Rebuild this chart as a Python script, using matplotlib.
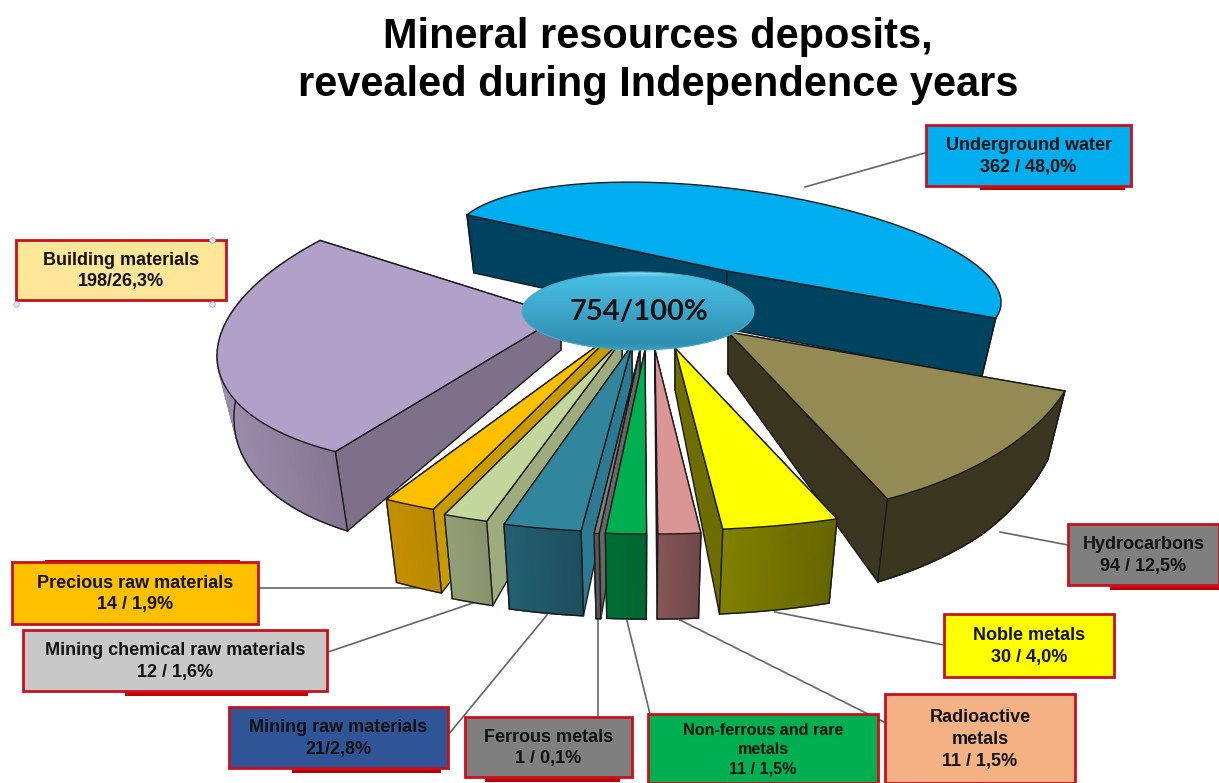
import numpy as np
import matplotlib
matplotlib.use("Agg")
import matplotlib.pyplot as plt
from matplotlib.patches import Polygon, Rectangle, Ellipse

# data
names = ["Underground water", "Hydrocarbons", "Noble metals", "Radioactive metals",
         "Non-ferrous and rare metals", "Ferrous metals", "Mining raw materials",
         "Mining chemical raw materials", "Precious raw materials", "Building materials"]
counts = [362, 94, 30, 11, 11, 1, 21, 12, 14, 198]
title = "Mineral resources deposits,\nrevealed during Independence years"
center_label = "754/100%"
box_labels = ["Underground water\n362 / 48,0%", "Hydrocarbons\n94 / 12,5%", "Noble metals\n30 / 4,0%",
              "Radioactive\nmetals\n11 / 1,5%", "Non-ferrous and rare\nmetals\n11 / 1,5%",
              "Ferrous metals\n1 / 0,1%", "Mining raw materials\n21/2,8%",
              "Mining chemical raw materials\n12 / 1,6%", "Precious raw materials\n14 / 1,9%",
              "Building materials\n198/26,3%"]

# colours: top, radial wall, outer wall (light, dark)
tops = ["#00aeef", "#948a54", "#ffff00", "#d99694", "#00b050", "#808080", "#31859c", "#c3d69b", "#ffc000", "#b1a0c7"]
sides = ["#004360", "#3b3620", "#6e6e00", "#7b5050", "#006a30", "#666666", "#2b7a92", "#9dab7e", "#c89b00", "#7f7089"]
front1 = ["#004360", "#3b3620", "#808000", "#855656", "#006f33", "#5a5a5a", "#235f72", "#939f76", "#c49000", "#9c8dae"]
front2 = ["#004360", "#3b3620", "#666600", "#6e4848", "#006730", "#505050", "#1d4e5e", "#87936c", "#b98900", "#85768f"]

# each wedge gets its own apex, radii, tilt and start angle (exploded look)
apex_x = [727, 728, 675, 655, 645, 640, 632, 622, 612, 561]
apex_y = [271, 332, 348, 350, 350, 350, 345, 340, 335, 316]
rad_x = [265, 355, 470, 470, 450, 600, 450, 450, 450, 344]
rad_y = [86, 187, 182, 184, 184, 184, 187, 190, 190, 145]
tilt = [0.195, 0, 0, 0, 0, 0, 0, 0, 0, -0.116]
skew = [70, 0, 0, 0, 0, 0, 0, 0, 0, 0]
start = [176.4, -18.4, -69.84, -84.4, -89.8, -93.9, -96.5, -107.5, -113.4, 229]
inner_h = [58, 42, 42, 42, 42, 42, 42, 42, 42, 34]
draw_order = [0, 9, 1, 8, 7, 6, 5, 2, 3, 4]

# label boxes x0, y0, x1, y1 and leader lines
boxes = [(926, 125, 1131, 186), (1068, 524, 1219, 585), (944, 614, 1114, 677), (885, 694, 1075, 783),
         (648, 714, 878, 783), (465, 717, 632, 777), (229, 707, 448, 768), (23, 630, 327, 691),
         (12, 562, 258, 624), (16, 240, 226, 300)]
box_cols = ["#00aeef", "#7f7f7f", "#ffff00", "#f4b183", "#00b050", "#7f7f7f", "#2f5597", "#c8c8c8", "#ffc000", "#ffe699"]
leaders = [((925, 153), (805, 187)), ((1068, 545), (1000, 532)), ((944, 645), (775, 612)),
           ((884, 722), (680, 620)), ((650, 714), (627, 621)), ((598, 716), (598, 620)),
           ((448, 735), (547, 615)), ((328, 652), (473, 603)), ((258, 588), (420, 588)), None]
text_sizes = [13, 13, 13, 13, 11.6, 13, 13, 13, 13, 13]
# red strips sticking out behind some boxes: x0, x1, y
strips = [(980, 1125, 186), (1110, 1219, 586), (485, 620, 778), (292, 441, 769), (125, 308, 692), (45, 240, 564)]

total = sum(counts)
plt.rcParams["font.family"] = ["Liberation Sans", "DejaVu Sans"]
fig = plt.figure(figsize=(12.19, 7.83), dpi=100)
ax = fig.add_axes([0, 0, 1, 1])
ax.set_xlim(0, 1219)
ax.set_ylim(783, 0)
ax.axis("off")


def drop(pts, frac, h_in):
    # bottom of the wedge: lower and pulled slightly to the middle
    pts = np.asarray(pts, dtype=float)
    h_out = np.interp(pts[:, 1], [213, 345, 455, 530], [58, 60, 80, 85])
    h = h_in + frac * (h_out - h_in)
    pull = (640 - pts[:, 0]) * 0.04 * frac
    return np.column_stack([pts[:, 0] + pull, pts[:, 1] + h])


for i in draw_order:
    sweep = 360 * counts[i] / total
    th = np.radians(np.linspace(start[i], start[i] - sweep, 60))
    dx = rad_x[i] * np.cos(th) + skew[i] * np.sin(th)
    arc_x = apex_x[i] + dx
    arc_y = apex_y[i] - rad_y[i] * np.sin(th) + tilt[i] * dx
    arc = np.column_stack([arc_x, arc_y])
    tip = np.array([[apex_x[i], apex_y[i]]], dtype=float)
    arc_low = drop(arc, np.ones(len(arc)), inner_h[i])
    tip_low = drop(tip, np.zeros(1), inner_h[i])

    # radial walls, the one further back first
    wall_a = [tip[0], arc[0], arc_low[0], tip_low[0]]
    wall_b = [tip[0], arc[-1], arc_low[-1], tip_low[0]]
    walls = [wall_a, wall_b] if arc[0, 1] < arc[-1, 1] else [wall_b, wall_a]
    for w in walls:
        ax.add_patch(Polygon(w, closed=True, fc=sides[i], ec="#1a1a1a", lw=1, zorder=1))

    # outer wall as strips for the soft shading, not for a wedge whose arc faces away
    if np.sin(th).mean() < 0.5:
        c1 = np.array(matplotlib.colors.to_rgb(front1[i]))
        c2 = np.array(matplotlib.colors.to_rgb(front2[i]))
        for k in range(len(arc) - 1):
            t = (arc[k:k + 2, 0].mean() - arc[:, 0].min()) / max(np.ptp(arc[:, 0]), 1)
            col = c1 + (c2 - c1) * t
            ax.add_patch(Polygon([arc[k], arc[k + 1], arc_low[k + 1], arc_low[k]], closed=True, fc=col, ec=col, lw=1, zorder=1))
        ax.plot(arc_low[:, 0], arc_low[:, 1], color="#1a1a1a", lw=1, zorder=1)
    ax.plot([arc[0, 0], arc_low[0, 0]], [arc[0, 1], arc_low[0, 1]], color="#1a1a1a", lw=1, zorder=1)
    ax.plot([arc[-1, 0], arc_low[-1, 0]], [arc[-1, 1], arc_low[-1, 1]], color="#1a1a1a", lw=1, zorder=1)

    # top face
    ax.add_patch(Polygon(np.vstack([tip, arc]), closed=True, fc=tops[i], ec="#1a1a1a", lw=1, zorder=1))

# leader lines go under the boxes
for seg in leaders:
    if seg is not None:
        ax.plot([seg[0][0], seg[1][0]], [seg[0][1], seg[1][1]], color="#666666", lw=1.2, zorder=0.5)

# centre oval with a vertical gradient
grad = np.linspace(0, 1, 80)
stops = [matplotlib.colors.to_rgb(c) for c in ["#8fdcf2", "#45bde3", "#3fa9cc", "#2f8fb0", "#3a9cbd"]]
grad_img = np.array([[np.interp(g, [0, 0.06, 0.45, 0.92, 1], [s[n] for s in stops]) for n in range(3)] for g in grad])
im = ax.imshow(grad_img[:, None, :], extent=(522, 754, 350, 272), aspect="auto", zorder=6)
oval = Ellipse((638, 311), 232, 78, fc="none", ec="#4aa9c8", lw=0.8, zorder=6.1)
ax.add_patch(oval)
im.set_clip_path(oval)
ax.set_xlim(0, 1219)
ax.set_ylim(783, 0)
ax.text(639, 312, center_label, ha="center", va="center", fontsize=21, fontweight="bold",
        family="Lato", color="#111111", zorder=7)

# label boxes
for x0, x1, y in strips:
    ax.add_patch(Rectangle((x0, y - 4), x1 - x0, 8, fc="#c00000", ec="none", zorder=8))
for i in range(len(boxes)):
    x0, y0, x1, y1 = boxes[i]
    ax.add_patch(Rectangle((x0, y0), x1 - x0, y1 - y0, fc=box_cols[i], ec="#c8101e", lw=2, zorder=9))
    ax.text((x0 + x1) / 2, (y0 + y1) / 2 + 1, box_labels[i], ha="center", va="center", fontsize=text_sizes[i],
            fontweight="bold", color="#111111", linespacing=1.35, zorder=10, clip_on=False)

# selection handles left on the building box
ax.plot([16, 212, 212], [304, 304, 240], ls="none", marker="o", ms=4, mfc="#dce9f5", mec="#9db8d8", mew=0.6, zorder=11)

ax.text(658, 61, title, ha="center", va="center", fontsize=29.9, fontweight="bold", color="black", linespacing=1.28)

fig.savefig("out.png", dpi=100)
